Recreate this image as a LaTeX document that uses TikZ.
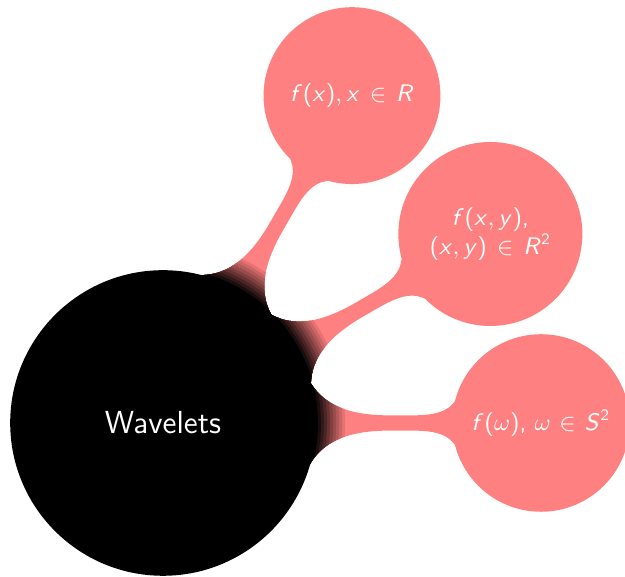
\documentclass[tikz,border=0pt]{standalone}
\usetikzlibrary{mindmap,backgrounds}
% sans serif math letters, as on a slide
\DeclareSymbolFont{sfslanted}{OT1}{cmss}{m}{sl}
\SetSymbolFont{operators}{normal}{OT1}{cmss}{m}{n}
\DeclareMathSymbol{f}{\mathalpha}{sfslanted}{`f}
\DeclareMathSymbol{x}{\mathalpha}{sfslanted}{`x}
\DeclareMathSymbol{y}{\mathalpha}{sfslanted}{`y}
\DeclareMathSymbol{R}{\mathalpha}{sfslanted}{`R}
\DeclareMathSymbol{S}{\mathalpha}{sfslanted}{`S}

\begin{document}
\begin{tikzpicture}[mindmap, text=white,
    rootidea/.style={concept, concept color=black, minimum size=4cm,
      text width=3.5cm, align=center, font=\sffamily\large},
    subidea/.style={concept, concept color=red!50, minimum size=2.29cm,
      text width=2.2cm, align=center, font=\sffamily\small}]
  \useasboundingbox (-2.156,-2.024) rectangle (6.111,5.595);
  \node[rootidea] (wavelets) at (0,0) {Wavelets};
  \node[subidea] (line) at (60:5) {$f(x), x \in R$};
  \node[subidea] (plane) at (30:5) {$f(x,y)$,\\ $(x,y) \in R^2$};
  \node[subidea] (sphere) at (0:5) {$f(\omega)$, $\omega \in S^2$};
  \begin{scope}[on background layer]
    \foreach \leaf in {line,plane,sphere}
      \path (wavelets) to[circle connection bar switch color=from (red!50) to (red!50)] (\leaf);
    % bars darken in steps towards the root
    \foreach \k in {1,...,10} {
      \pgfmathsetmacro\rad{2.45-0.04*\k}
      \pgfmathtruncatemacro\p{100-10*\k}
      \colorlet{band}{red!50!white!\p!black}
      \begin{scope}
        \clip (wavelets.center) circle (\rad);
        \foreach \leaf in {line,plane,sphere}
          \path (wavelets) to[circle connection bar switch color=from (band) to (band)] (\leaf);
      \end{scope}
    }
  \end{scope}
\end{tikzpicture}
\end{document}
